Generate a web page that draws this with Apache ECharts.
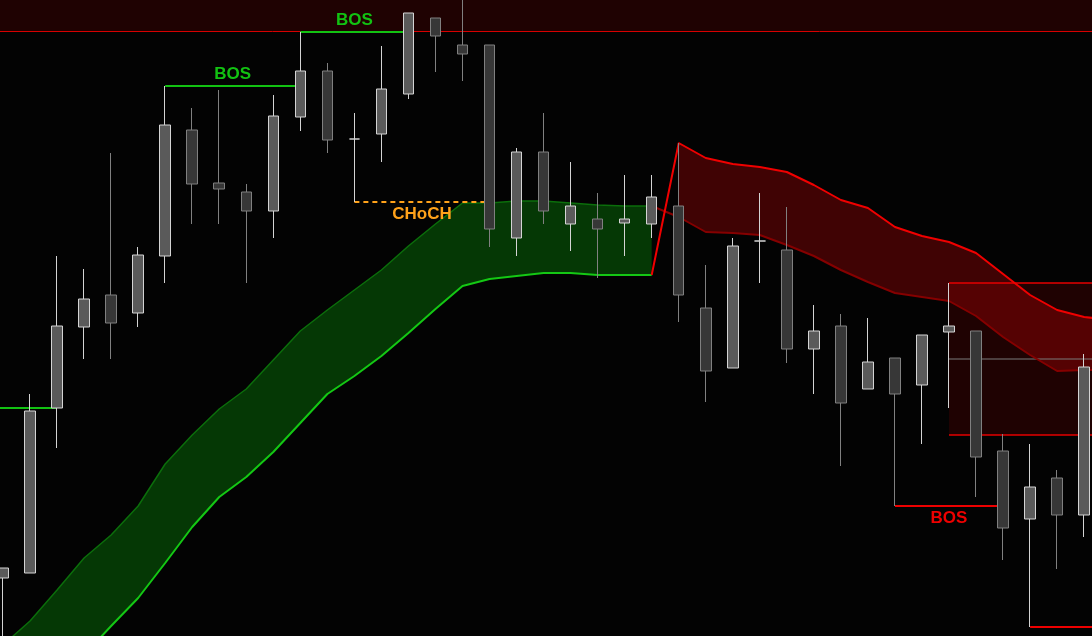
<!DOCTYPE html>
<html><head><meta charset="utf-8">
<script src="https://cdn.jsdelivr.net/npm/echarts@6/dist/echarts.min.js"></script>
<style>html,body{margin:0;padding:0;background:#030303;}#c{width:1092px;height:636px;}</style>
</head><body><div id="c"></div>
<script>
// ---- candles (price units, index = bar number) ----
const opens  = [58,63,228,309,341,323,380,506,453,444,425,519,565,497,502,542,618,591,591,398,484,412,417,413,412,430,328,268,395,386,287,310,247,278,251,304,305,185,117,158,121];
const closes = [68,225,310,337,313,381,511,452,447,425,520,565,496,497,547,623,600,582,407,484,425,430,407,417,439,341,265,390,395,287,305,233,274,242,301,310,179,108,149,121,269];
const lows   = [-24,63,188,277,277,309,353,412,412,353,398,505,483,434,474,537,564,555,389,380,412,385,358,380,398,314,234,268,353,273,242,170,247,130,192,228,139,76,9,67,99];
const highs  = [68,242,380,367,483,389,550,528,546,452,541,604,573,523,590,623,618,646,591,488,523,474,443,461,461,493,371,398,443,429,331,322,318,278,301,353,305,202,192,166,282];

// ---- bullish band (bars -1 .. 24) ----
const greenStart = -1;
const greenUpper = [-34,-9,15,46,78,101,130,172,201,227,247,276,305,326,346,366,390,412,433,433,435,435,433,431,430,430];
const greenLower = [-134,-104,-79,-48,-19,10,38,73,109,139,159,184,213,242,260,280,303,327,350,357,360,363,363,361,361,361];

// ---- bearish band (bars 24 .. 41) ----
const redStart = 24;
const redUpper = [361,493,478,472,469,464,451,436,428,409,400,394,383,362,341,326,319,316];
const redLower = [430,419,404,403,401,391,380,366,354,343,339,335,320,299,281,265,266,266];

// ---- zones: [fromBar, toBar, bottom, top] ----
const supplyZoneTop = [-2, 43, 604.5, 690];
const supplyZoneBox = [35, 43, 201, 353];

// ---- structure lines: [fromBar, toBar, level] ----
const bosUpLines   = [[-4, 2, 228], [6, 11, 550], [11, 15, 604]];
const bosUpLabels  = ['', 'BOS', 'BOS'];
const bosDownLines = [[33, 37, 130], [38, 43, 9]];
const bosDownLabels= ['BOS', ''];
const chochLines   = [[13, 18, 434]];
const chochLabels  = ['CHoCH'];

const candles = opens.map((o, i) => [i, o, closes[i], lows[i], highs[i]]);
const toPts = (start, arr) => arr.map((v, k) => [start + k, v]);

function bandSeries(start, upper, lower, fill) {
  return {
    type: 'custom', z: 1, silent: true,
    data: [[start, upper[0]]], encode: {x: 0, y: 1},
    renderItem: function (params, api) {
      const pts = [];
      for (let k = 0; k < upper.length; k++) pts.push(api.coord([start + k, upper[k]]));
      for (let k = lower.length - 1; k >= 0; k--) pts.push(api.coord([start + k, lower[k]]));
      return {type: 'polygon', shape: {points: pts}, style: {fill: fill}};
    }
  };
}

function zoneSeries(zone, borderColor, borderWidth, withMid) {
  return {
    type: 'custom', z: 1.5, silent: true,
    data: [zone], encode: {x: [0, 1], y: [2, 3]},
    renderItem: function (params, api) {
      const x0 = api.value(0), x1 = api.value(1), lo = api.value(2), hi = api.value(3);
      const a = api.coord([x0, hi]), b = api.coord([x1, lo]);
      const ch = [
        {type: 'rect', shape: {x: a[0], y: a[1], width: b[0] - a[0], height: b[1] - a[1]}, style: {fill: 'rgba(255,0,0,0.115)'}},
        {type: 'line', shape: {x1: a[0], y1: a[1], x2: b[0], y2: a[1]}, style: {stroke: borderColor, lineWidth: borderWidth}},
        {type: 'line', shape: {x1: a[0], y1: b[1], x2: b[0], y2: b[1]}, style: {stroke: borderColor, lineWidth: borderWidth}}
      ];
      if (withMid) {
        const m = api.coord([x0, (lo + hi) / 2]);
        ch.push({type: 'line', shape: {x1: a[0], y1: m[1], x2: b[0], y2: m[1]}, style: {stroke: '#7a7a7a', lineWidth: 1}});
      }
      return {type: 'group', children: ch};
    }
  };
}

function lineSeries(pts, color, width, type, z) {
  return {type: 'line', data: pts, symbol: 'none', z: z || 2, silent: true,
          lineStyle: {color: color, width: width, type: type || 'solid'}};
}

const series = [];
series.push(bandSeries(greenStart, greenUpper, greenLower, '#053805'));
series.push(bandSeries(redStart + 1, redUpper.slice(1), redLower.slice(1), '#400304'));
series.push(zoneSeries(supplyZoneTop, '#d80000', 1, false));
series.push(zoneSeries(supplyZoneBox, '#e60000', 1.5, true));
series.push(lineSeries(toPts(greenStart, greenUpper), '#0b6e0b', 1.5));
series.push(lineSeries(toPts(greenStart, greenLower), '#14c814', 2));
series.push(lineSeries(toPts(redStart, redLower), '#850000', 2));
series.push(lineSeries(toPts(redStart, redUpper), '#f00000', 2));

const labelData = [];
function addStructs(lines, labels, color, dashed, below) {
  lines.forEach((l, k) => {
    series.push(lineSeries([[l[0], l[2]], [l[1], l[2]]], color, 2, dashed ? [5, 4] : 'solid', 2.5));
    if (labels[k]) labelData.push({value: [(l[0] + l[1]) / 2, l[2]], text: labels[k], color: color, below: below});
  });
}
addStructs(bosUpLines, bosUpLabels, '#12c212', false, false);
addStructs(bosDownLines, bosDownLabels, '#ee0000', false, true);
addStructs(chochLines, chochLabels, '#ffa21a', true, true);

series.push({
  type: 'candlestick', z: 3, barWidth: 11, data: candles,
  encode: {x: 0, y: [1, 2, 3, 4]},
  itemStyle: {color: '#5a5a5a', color0: '#373737', borderColor: '#d4d4d4', borderColor0: '#808080',
              borderColorDoji: '#d4d4d4', borderWidth: 1}
});

series.push({
  type: 'scatter', z: 4, symbolSize: 0, silent: true,
  itemStyle: {opacity: 1},
  data: labelData.map(d => ({
    value: d.value,
    itemStyle: {opacity: 1},
    label: {show: true, formatter: d.text, position: 'inside', offset: [0, d.below ? 12 : -12], opacity: 1,
            color: d.color, fontSize: 17, fontWeight: 'bold', fontFamily: 'Liberation Sans, Arial, sans-serif'}
  }))
});

const chart = echarts.init(document.getElementById('c'));
chart.setOption({
  backgroundColor: '#030303',
  animation: false,
  grid: {left: 0, right: 0, top: 0, bottom: 0},
  xAxis: {type: 'value', min: -0.111, max: 40.29, show: false, splitLine: {show: false}},
  yAxis: {type: 'value', min: 0, max: 636, show: false, splitLine: {show: false}},
  series: series
});
</script></body></html>
